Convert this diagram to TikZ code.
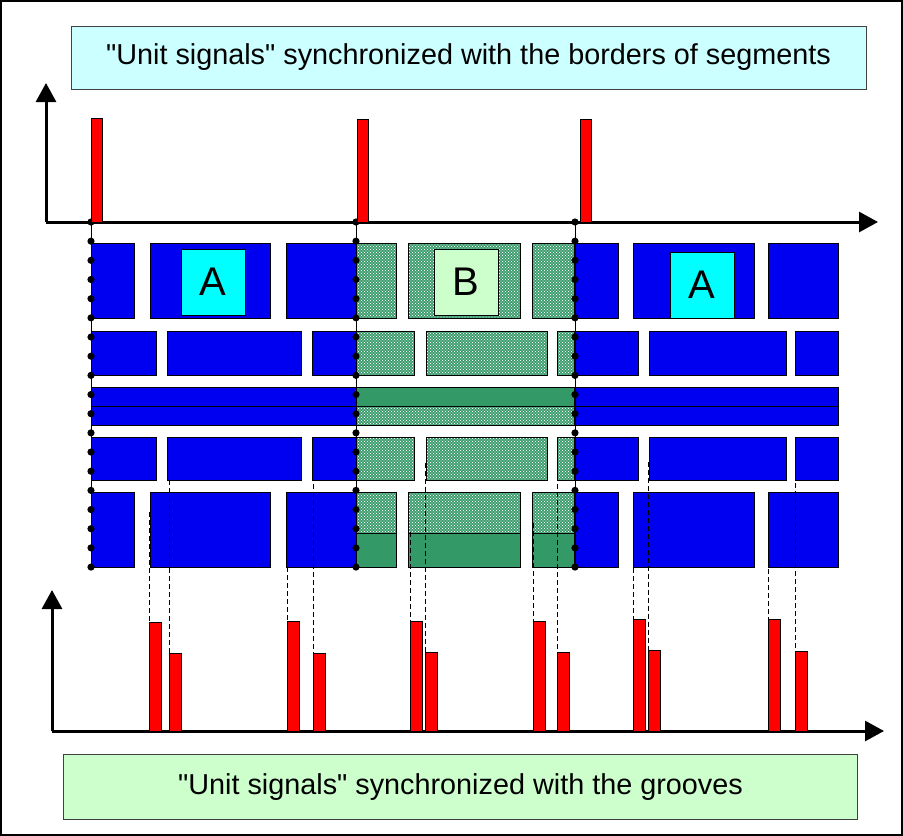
\documentclass[tikz,border=0pt]{standalone}
\usepackage{fontspec}
\setmainfont[Ligatures=TeXOff]{Liberation Sans}
\usepackage{tikz}
\usetikzlibrary{arrows.meta, patterns}

\definecolor{cellblue}{RGB}{0,0,240}
\definecolor{meshgreen}{RGB}{51,153,102}
\definecolor{tagcyan}{RGB}{0,255,255}
\definecolor{taggreen}{RGB}{204,255,204}
\definecolor{topnote}{RGB}{204,255,255}
\definecolor{botnote}{RGB}{204,255,204}

\pgfdeclarepatternformonly{meshdots}{\pgfqpoint{-1pt}{-1pt}}{\pgfqpoint{4pt}{4pt}}{\pgfqpoint{3pt}{3pt}}{
    \pgfpathcircle{\pgfqpoint{0pt}{0pt}}{0.72pt}
    \pgfpathcircle{\pgfqpoint{1.5pt}{1.5pt}}{0.72pt}
    \pgfusepath{fill}
}

\begin{document}
\begin{tikzpicture}[x=1pt, y=-1pt,
    block/.style={fill=cellblue, draw=black, line width=0.6pt},
    mesh/.style={preaction={fill=meshgreen}, pattern=meshdots, pattern color=white, draw=black, line width=0.6pt},
    fullgreen/.style={fill=meshgreen, draw=black, line width=0.6pt},
    pulse/.style={fill=red, draw=black, line width=0.6pt},
    axis/.style={line width=3pt, -{Triangle[length=19pt, width=20pt]}},
    guide/.style={dash pattern=on 5pt off 3pt, line width=0.9pt},
    tag/.style={draw=black, line width=0.8pt, minimum width=64pt, minimum height=66pt, inner sep=0pt, font=\fontsize{40}{44}\selectfont},
    banner/.style={draw=black!75, line width=1pt, inner sep=0pt, font=\fontsize{28.8}{32}\selectfont}]
\useasboundingbox (0,0) rectangle (903,836);
\draw[line width=2pt] (1,1) rectangle (902,835);

% banners
\node[banner, fill=topnote, minimum width=795pt, minimum height=63pt] (topbox) at (468.5,57.5) {"Unit signals" synchronized with the borders of segments};
\node[banner, fill=botnote, minimum width=794pt, minimum height=65pt] (botbox) at (460.5,787) {"Unit signals" synchronized with the grooves};

% rows 1 and 5
\foreach \ya/\yb in {243/318, 492/567} {
    \foreach \xa/\xb in {91/134, 150/270, 286/356, 575/618, 633/754, 768/838}
        \draw[block] (\xa,\ya) rectangle (\xb,\yb);
}
\foreach \xa/\xb in {356/396, 408/520, 532/574} {
    \draw[mesh] (\xa,243) rectangle (\xb,318);
    \draw[mesh] (\xa,492) rectangle (\xb,533);
    \draw[fullgreen] (\xa,533) rectangle (\xb,567);
}

% rows 2 and 4
\foreach \ya/\yb in {331/375, 437/480} {
    \foreach \xa/\xb in {91/156, 167/301, 312/356, 575/638, 649/786, 795/838}
        \draw[block] (\xa,\ya) rectangle (\xb,\yb);
    \foreach \xa/\xb in {356/414, 426/547, 557/574}
        \draw[mesh] (\xa,\ya) rectangle (\xb,\yb);
}

% row 3
\foreach \xa/\xb in {91/356, 575/838} {
    \draw[block] (\xa,387) rectangle (\xb,406);
    \draw[block] (\xa,406) rectangle (\xb,425);
}
\draw[fullgreen] (356,387) rectangle (574,406);
\draw[mesh] (356,406) rectangle (574,425);

% segment tags
\node[tag, fill=tagcyan] (tagA1) at (213,282) {A};
\node[tag, fill=taggreen] (tagB) at (466,282) {B};
\node[tag, fill=tagcyan] (tagA2) at (702,285) {A};

% borders of segments
\foreach \x in {91,356,575} {
    \draw[line width=1pt] (\x,222) -- (\x,567);
    \foreach \k in {0,...,18}
        \fill (\x,{222+\k*19.17}) circle (3.6pt);
}

% upper chart
\draw[axis] (46,222) -- (46,83);
\draw[axis] (46,222) -- (878,222);
\foreach \x/\t in {91/118, 357/119, 580/119}
    \draw[pulse] (\x,\t) rectangle ({\x+11},222);

% lower chart
\draw[axis] (52,731) -- (52,590);
\draw[axis] (52,731) -- (884,731);
\foreach \xa/\ta/\sa/\xb/\tb/\sb in {149/622/512/169/653/480, 287/621/567/313/653/484,
        410/621/532/425/652/463, 533/621/523/557/652/460,
        633/619/568/648/650/462, 768/619/537/795/651/467} {
    \draw[pulse] (\xa,\ta) rectangle ({\xa+12},731);
    \draw[pulse] (\xb,\tb) rectangle ({\xb+12},731);
    \draw[guide] (\xa,\sa) -- (\xa,\ta);
    \draw[guide] (\xb,\sb) -- (\xb,\tb);
}
\end{tikzpicture}
\end{document}
